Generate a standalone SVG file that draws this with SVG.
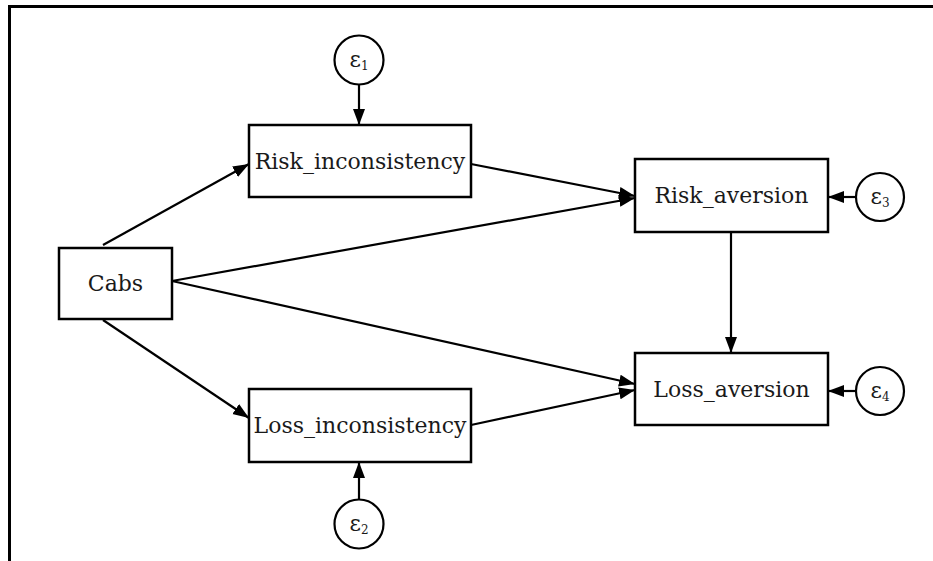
<svg xmlns="http://www.w3.org/2000/svg" width="933" height="561" viewBox="0 0 933 561">
<style>
.box{fill:#fff;stroke:#000;stroke-width:2.5}
.err{fill:#fff;stroke:#000;stroke-width:2.2}
.lbl{font-family:"DejaVu Serif","Liberation Serif",serif;font-size:22px;fill:#1a1a1a;text-anchor:middle}
.eps{font-family:"DejaVu Serif","Liberation Serif",serif;font-size:22px;fill:#1a1a1a;text-anchor:middle}
.sub{font-size:12px}
.edge{stroke:#000;stroke-width:2.2;fill:none;marker-end:url(#ah)}
</style>
<defs>
<marker id="ah" markerUnits="userSpaceOnUse" markerWidth="18" markerHeight="14" refX="16" refY="7" orient="auto">
<path d="M0,1 L16,7 L0,13 z" fill="#000"/>
</marker>
</defs>
<rect width="933" height="561" fill="#fff"/>
<path d="M9.5,561 V6.5 H933" fill="none" stroke="#000" stroke-width="3"/>
<g id="connectors">
<line class="edge" x1="103" y1="245" x2="249" y2="164"/>
<line class="edge" x1="103" y1="320" x2="249" y2="418"/>
<line class="edge" x1="172" y1="281" x2="635" y2="198"/>
<line class="edge" x1="172" y1="281" x2="635" y2="384"/>
<line class="edge" x1="471" y1="164" x2="635" y2="196"/>
<line class="edge" x1="471" y1="425" x2="635" y2="390"/>
<line class="edge" x1="731" y1="232" x2="731" y2="353"/>
<line class="edge" x1="359" y1="85" x2="359" y2="125"/>
<line class="edge" x1="359" y1="500" x2="359" y2="462"/>
<line class="edge" x1="856" y1="197" x2="828" y2="197"/>
<line class="edge" x1="856" y1="391" x2="828" y2="391"/>
</g>
<g id="cabs">
<rect class="box" x="59" y="248" width="113" height="71"/>
<text class="lbl" x="115.5" y="291">Cabs</text>
</g>
<g id="risk_inconsistency">
<rect class="box" x="249" y="125" width="222" height="72"/>
<text class="lbl" x="360" y="169">Risk_inconsistency</text>
</g>
<g id="loss_inconsistency">
<rect class="box" x="249" y="389" width="222" height="73"/>
<text class="lbl" x="360" y="433">Loss_inconsistency</text>
</g>
<g id="risk_aversion">
<rect class="box" x="635" y="159" width="193" height="73"/>
<text class="lbl" x="731.5" y="203">Risk_aversion</text>
</g>
<g id="loss_aversion">
<rect class="box" x="635" y="353" width="193" height="72"/>
<text class="lbl" x="731.5" y="397">Loss_aversion</text>
</g>
<g id="e1">
<circle class="err" cx="359" cy="60" r="24.5"/>
<text class="eps" x="359" y="67">ε<tspan class="sub" dy="3">1</tspan></text>
</g>
<g id="e2">
<circle class="err" cx="359" cy="524" r="24.5"/>
<text class="eps" x="359" y="531">ε<tspan class="sub" dy="3">2</tspan></text>
</g>
<g id="e3">
<circle class="err" cx="880" cy="197" r="24"/>
<text class="eps" x="880" y="204">ε<tspan class="sub" dy="3">3</tspan></text>
</g>
<g id="e4">
<circle class="err" cx="880" cy="391" r="24"/>
<text class="eps" x="880" y="398">ε<tspan class="sub" dy="3">4</tspan></text>
</g>
</svg>
